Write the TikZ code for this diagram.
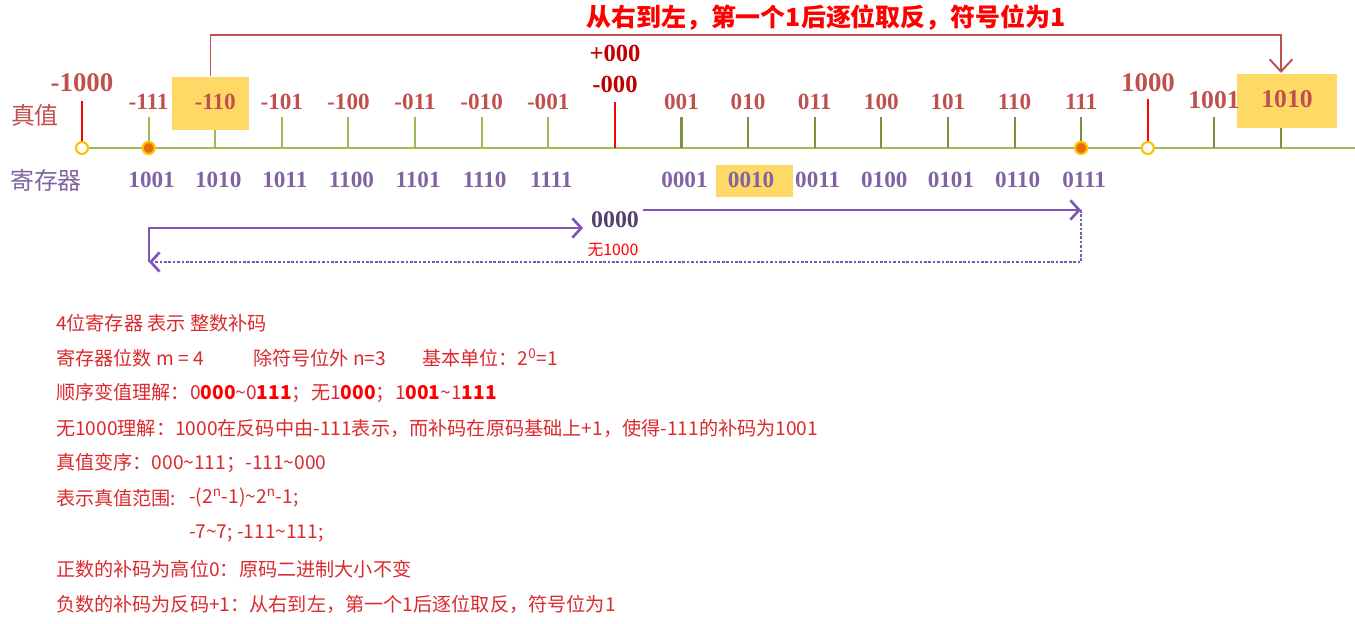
\documentclass[tikz,border=0pt]{standalone}
\usepackage{fontspec}
\setmainfont{Noto Sans CJK SC}
\newfontfamily\cjk{Noto Sans CJK SC}
\newfontfamily\numf{Liberation Serif}
\usepackage{tikz}
\usetikzlibrary{arrows.meta,positioning,calc}
\definecolor{ValRed}{HTML}{C0504D}
\definecolor{ZeroRed}{HTML}{C00000}
\definecolor{TickRed}{HTML}{FF0000}
\definecolor{AxisGreen}{HTML}{9BBB59}
\definecolor{TickOlive}{HTML}{77933C}
\definecolor{RegPurple}{HTML}{8064A2}
\definecolor{HiYellow}{HTML}{FFD966}
\definecolor{DotGold}{HTML}{FFC000}
\definecolor{DotOrange}{HTML}{E46C0A}
\definecolor{ArrPurple}{HTML}{7F56B8}
\definecolor{ZeroGrey}{HTML}{514370}
\definecolor{NoteRed}{HTML}{DA2A2E}

\begin{document}
\begin{tikzpicture}[x=0.02cm, y=-0.02cm, line width=1.2pt,
  side/.style={font=\cjk\fontsize{13.6}{15}\selectfont, inner sep=0pt},
  val/.style={font=\numf\bfseries\fontsize{13.2}{15}\selectfont, text=ValRed, inner sep=0pt},
  big/.style={font=\numf\bfseries\fontsize{15.3}{17}\selectfont, text=ValRed, inner sep=0pt},
  zero/.style={font=\numf\bfseries\fontsize{14}{16}\selectfont, text=ZeroRed, inner sep=0pt},
  reg/.style={font=\numf\bfseries\fontsize{13.2}{15}\selectfont, text=RegPurple, inner sep=0pt},
  hlbox/.style={fill=HiYellow, inner sep=0pt},
  lighttick/.style={draw=AxisGreen},
  darktick/.style={draw=TickOlive},
  redtick/.style={draw=TickRed},
  opendot/.style={circle, draw=DotGold, fill=white, minimum size=0.24cm, inner sep=0pt},
  fulldot/.style={circle, draw=DotGold, fill=DotOrange, minimum size=0.24cm, inner sep=0pt},
  parrow/.style={draw=ArrPurple, line width=1.5pt, -{Straight Barb[length=5pt,width=11pt]}},
  toparrow/.style={draw=ValRed, line width=1.1pt, -{Straight Barb[length=7pt,width=13pt]}},
  note/.style={font=\fontsize{10.9}{12}\selectfont, text=NoteRed, anchor=west, inner sep=0pt}]

\useasboundingbox (0,0) rectangle (1355,624);

% number line
\foreach \i in {0,...,18}{\coordinate (t\i) at ({82+66.61*\i},148);}
\coordinate (lend) at (1355,148);
\draw[draw=AxisGreen, line width=1.5pt] (t0) -- (lend);
\foreach \i in {1,...,7}{\draw[lighttick] (t\i) -- ++(0,-31);}
\foreach \i in {9,...,15,17,18}{\draw[darktick] (t\i) -- ++(0,-31);}

\node[side, text=ValRed] (zhen) at (35,115) {真值};
\node[side, text=RegPurple] (jcq) at (46,180) {寄存器};

% highlighted boxes
\node[hlbox, minimum width=1.54cm, minimum height=1.06cm] (hl110) at (210.5,103.5) {};
\node[hlbox, minimum width=2cm, minimum height=1.08cm] (hl1010) at (1287,101) {};
\node[hlbox, minimum width=1.54cm, minimum height=0.64cm] (hl0010) at (754.5,181) {};

% true values
\foreach \i/\v in {1/-111,2/-110,3/-101,4/-100,5/-011,6/-010,7/-001,9/001,10/010,11/011,12/100,13/101,14/110,15/111}{
  \node[val] (v\i) at ({82+66.61*\i},102) {\v};}
\node[big] (vmin) at (82,83) {-1000};
\node[big] (vmax) at (1148,83) {1000};
\node[big, font=\numf\bfseries\fontsize{14.6}{17}\selectfont] (v17) at (1214,100) {1001};
\node[big, font=\numf\bfseries\fontsize{14.6}{17}\selectfont] (v18) at (1287,99) {1010};
\node[zero] (vplus) at (615,53) {+000};
\node[zero] (vneg) at (615,84) {-000};

% register codes
\foreach \i/\r in {1/1001,2/1010,3/1011,4/1100,5/1101,6/1110,7/1111,9/0001,10/0010,11/0011,12/0100,13/0101,14/0110,15/0111}{
  \node[reg] (r\i) at ({85+66.61*\i},180) {\r};}

% red ticks and dots
\node[opendot] (d0) at (t0) {};
\node[fulldot] (d1) at (t1) {};
\node[fulldot] (d15) at (t15) {};
\node[opendot] (d16) at (t16) {};
\draw[redtick] (d0.north) -- ++(0,-40);
\draw[redtick] (t8) -- ++(0,-46);
\draw[redtick] (d16.north) -- ++(0,-42);

% rule arrow
\node[font=\bfseries\fontsize{14.2}{16}\selectfont, text=TickRed, inner sep=0pt] (rule) at (826,18) {从右到左，第一个1后逐位取反，符号位为1};
\coordinate (ctop) at (0,35);
\draw[toparrow] (hl110.north) -- (hl110.north |- ctop) -| (t18 |- hl1010.north);

% ordering arrows
\node[font=\numf\bfseries\fontsize{13.6}{15}\selectfont, text=ZeroGrey, inner sep=0pt] (z0) at (615,220) {0000};
\node[font=\fontsize{9}{10}\selectfont, text=TickRed, inner sep=0pt] (wu) at (613,250) {无1000};
\coordinate (ra) at (643,210);
\coordinate (rb) at (1081,210);
\coordinate (rc) at (1081,262);
\coordinate (rd) at (149,262);
\coordinate (re) at (149,228);
\coordinate (rf) at (583,228);
\draw[parrow] (ra) -- (rb);
\draw[parrow, densely dotted] (rb) -- (rc) -- (rd);
\draw[parrow] (rd) -- (re) -- (rf);

% notes
\node[note] (n1) at (55,323) {4位寄存器 表示 整数补码};
\node[note] (n2a) at (55,358) {寄存器位数 m = 4};
\node[note] (n2b) at (252,358) {除符号位外 n=3};
\node[note] (n2c) at (421,358) {基本单位：2\textsuperscript{0}=1};
\node[note] (n3) at (55,393) {顺序变值理解：0\textcolor{TickRed}{\textbf{000}}\textasciitilde0\textcolor{TickRed}{\textbf{111}}；无1\textcolor{TickRed}{\textbf{000}}；1\textcolor{TickRed}{\textbf{001}}\textasciitilde1\textcolor{TickRed}{\textbf{111}}};
\node[note] (n4) at (55,428) {无1000理解：1000在反码中由-111表示，而补码在原码基础上+1，使得-111的补码为1001};
\node[note] (n5) at (55,463) {真值变序：000\textasciitilde111；-111\textasciitilde000};
\node[note] (n6a) at (55,498) {表示真值范围:};
\node[note] (n6b) at (188,498) {-(2\textsuperscript{n}-1)\textasciitilde2\textsuperscript{n}-1;};
\node[note] (n6c) at (188,533) {-7\textasciitilde7; -111\textasciitilde111;};
\node[note] (n7) at (55,569) {正数的补码为高位0：原码二进制大小不变};
\node[note] (n8) at (55,604) {负数的补码为反码+1：从右到左，第一个1后逐位取反，符号位为1};
\end{tikzpicture}
\end{document}
